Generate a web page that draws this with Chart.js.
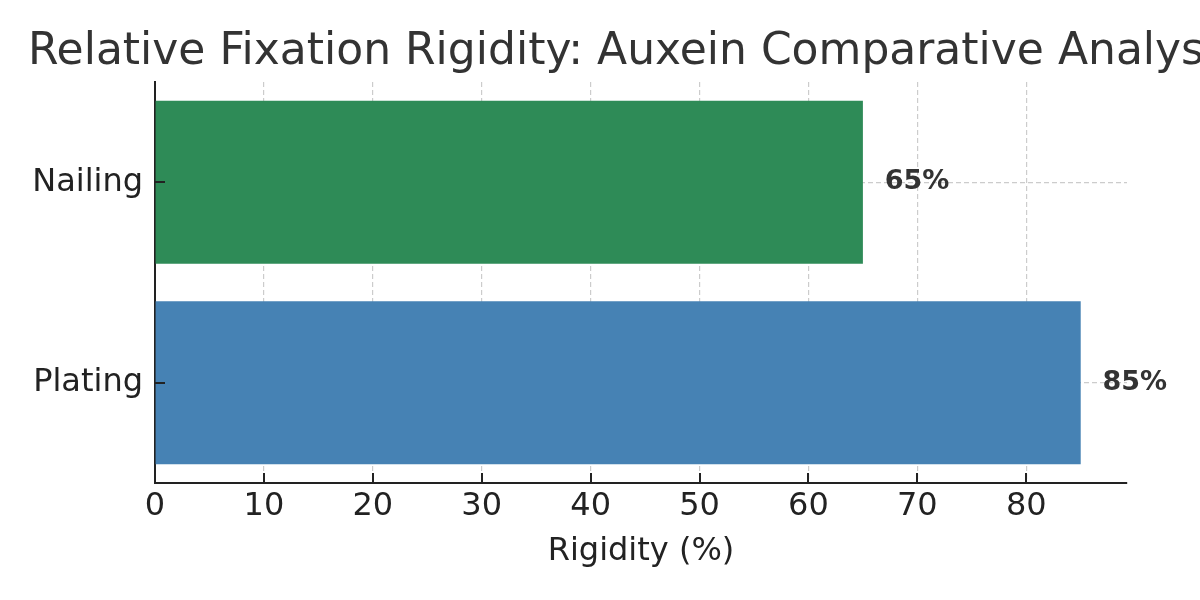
<!DOCTYPE html>
<html>
<head>
<meta charset="utf-8">
<script src="https://cdn.jsdelivr.net/npm/chart.js@4"></script>
<style>
  html, body { margin: 0; padding: 0; background: #fff; }
  #wrap { width: 1200px; height: 600px; }
</style>
</head>
<body>
<div id="wrap"><canvas id="rigidityChart" width="1200" height="600"></canvas></div>
<script>
const methods = ['Nailing', 'Plating'];
const rigidity = [65, 85];
const barColors = ['#2e8b57', '#4682b4'];
const xTicks = [0, 10, 20, 30, 40, 50, 60, 70, 80];
const chartTitle = 'Relative Fixation Rigidity: Auxein Comparative Analysis';

const FONT = "'DejaVu Sans', sans-serif";

// title drawn left-aligned like the source, it runs off the right edge
const titlePlugin = {
    id: 'leftTitle',
    afterDraw(chart) {
        const ctx = chart.ctx;
        ctx.save();
        ctx.font = '44px ' + FONT;
        ctx.fillStyle = '#333333';
        ctx.textBaseline = 'alphabetic';
        ctx.textAlign = 'left';
        ctx.fillText(chartTitle, 28, 64);
        ctx.restore();
    }
};

// value labels to the right of each bar
const valueLabels = {
    id: 'valueLabels',
    afterDatasetsDraw(chart) {
        const ctx = chart.ctx;
        const x = chart.scales.x;
        const y = chart.scales.y;
        ctx.save();
        ctx.font = 'bold 27px ' + FONT;
        ctx.fillStyle = '#333333';
        ctx.textBaseline = 'middle';
        ctx.textAlign = 'left';
        rigidity.forEach((v, i) => {
            ctx.fillText(v + '%', x.getPixelForValue(v + 2), y.getPixelForValue(i));
        });
        ctx.restore();
    }
};

// tick marks point into the plot
const innerTicks = {
    id: 'innerTicks',
    afterDraw(chart) {
        const ctx = chart.ctx;
        const x = chart.scales.x;
        const y = chart.scales.y;
        const area = chart.chartArea;
        ctx.save();
        ctx.strokeStyle = '#222222';
        ctx.lineWidth = 2;
        ctx.beginPath();
        xTicks.forEach(t => {
            const px = Math.round(x.getPixelForValue(t));
            ctx.moveTo(px, area.bottom);
            ctx.lineTo(px, area.bottom - 10);
        });
        methods.forEach((m, i) => {
            const py = Math.round(y.getPixelForValue(i));
            ctx.moveTo(area.left, py);
            ctx.lineTo(area.left + 10, py);
        });
        ctx.stroke();
        ctx.restore();
    }
};

const ctx = document.getElementById('rigidityChart').getContext('2d');

new Chart(ctx, {
    type: 'bar',
    data: {
        labels: methods,
        datasets: [{
            label: 'Rigidity (%)',
            data: rigidity,
            backgroundColor: barColors,
            borderWidth: 0,
            barPercentage: 0.813,
            categoryPercentage: 1.0
        }]
    },
    options: {
        indexAxis: 'y',
        responsive: false,
        animation: false,
        layout: {
            padding: { top: 82, right: 73, left: 0, bottom: 0 }
        },
        plugins: {
            legend: { display: false },
            title: { display: false },
            tooltip: { enabled: false }
        },
        scales: {
            x: {
                type: 'linear',
                min: 0,
                max: 89.25,
                z: 1,
                afterBuildTicks(scale) {
                    scale.ticks = xTicks.map(v => ({ value: v }));
                },
                afterFit(scale) {
                    scale.height = 117;
                },
                ticks: {
                    color: '#222222',
                    font: { family: FONT, size: 32 },
                    padding: 4,
                    maxRotation: 0,
                    autoSkip: false
                },
                grid: {
                    color: 'rgba(176,176,176,0.65)',
                    lineWidth: 1.2,
                    drawTicks: false
                },
                border: { display: true, color: '#222222', width: 2, dash: [5, 3] },
                title: {
                    display: true,
                    text: 'Rigidity (%)',
                    color: '#222222',
                    font: { family: FONT, size: 32 },
                    padding: { top: 0, bottom: 29 }
                }
            },
            y: {
                z: 1,
                afterFit(scale) {
                    scale.width = 155;
                },
                ticks: {
                    color: '#222222',
                    font: { family: FONT, size: 32 },
                    padding: 12
                },
                grid: {
                    offset: false,
                    color: 'rgba(176,176,176,0.65)',
                    lineWidth: 1.2,
                    drawTicks: false
                },
                border: { display: true, color: '#222222', width: 2, dash: [5, 3] }
            }
        }
    },
    plugins: [titlePlugin, valueLabels, innerTicks]
});
</script>
</body>
</html>
